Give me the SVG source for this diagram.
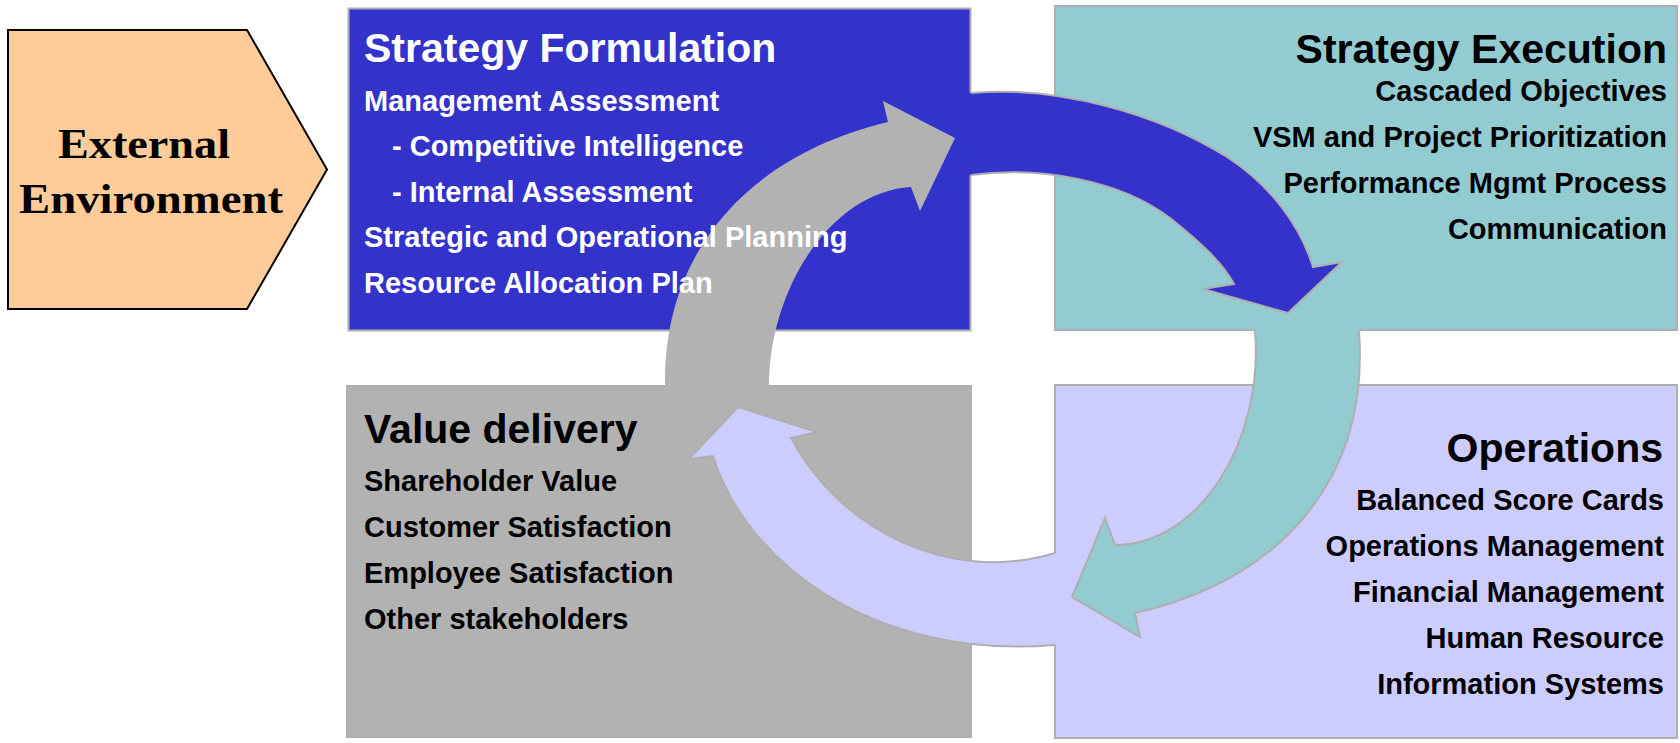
<svg xmlns="http://www.w3.org/2000/svg" width="1680" height="743" viewBox="0 0 1680 743">
<style>
.box{stroke:#AFAFAF;stroke-width:2}
.edge{fill:none;stroke:#AFAFAF;stroke-width:2;stroke-linejoin:miter}
.t{font-family:"Liberation Sans",Arial,sans-serif;font-weight:bold}
.title{font-size:41px}
.body{font-size:29px}
.w{fill:#FFFFFF}
.k{fill:#000000}
.r{text-anchor:end}
.env{font-family:"Liberation Serif","Times New Roman",serif;font-weight:bold;font-size:42px;fill:#000}
</style>
<rect width="1680" height="743" fill="#FFFFFF"/>

<g id="external-environment">
  <polygon points="8,30 247,30 327,169.5 247,309 8,309" fill="#FFCC99" stroke="#000" stroke-width="2"/>
  <text class="env" x="144" y="158" text-anchor="middle" textLength="172" lengthAdjust="spacingAndGlyphs">External</text>
  <text class="env" x="151" y="213" text-anchor="middle" textLength="264" lengthAdjust="spacingAndGlyphs">Environment</text>
</g>

<g id="strategy-formulation-box">
  <rect class="box" x="348.5" y="8.5" width="622" height="322" fill="#3333CC"/>
</g>
<g id="strategy-execution-box">
  <rect class="box" x="1055" y="6" width="622" height="324" fill="#92CCD1"/>
</g>
<g id="value-delivery-box">
  <rect class="box" x="347" y="386" width="624" height="351" fill="#B2B2B2"/>
</g>
<g id="operations-box">
  <rect class="box" x="1055" y="385" width="622" height="353" fill="#CCCCFF"/>
</g>

<g id="connectors">
  <!-- gray arrow: value delivery -> strategy formulation -->
  <path d="M665,400 L665,386 C663,250 750,155 888,122 L883,101 L955,138 L920,211 L911,187 C830,192 769,290 769,386 L769,400 Z" fill="#B2B2B2"/>
  <!-- lavender arrow: operations -> value delivery -->
  <path d="M1090,645 L1055,645 C870,660 745,560 713,456 L689,459 L738,407 L817,432 L791,438 C840,530 950,585 1055,553 L1090,553 Z" fill="#CCCCFF"/>
  <path class="edge" d="M1055,645 C870,660 745,560 713,456 L689,459 L738,407 L817,432 L791,438 C840,530 950,585 1055,553"/>
  <!-- teal arrow: strategy execution -> operations -->
  <path d="M1255,318 L1255,330 C1264,440 1200,545 1115,545 L1105,518 L1072,597 L1140,637 L1135,613 C1280,580 1370,480 1359,330 L1359,318 Z" fill="#92CCD1"/>
  <path class="edge" d="M1255,331 C1264,440 1200,545 1115,545 L1105,518 L1072,597 L1140,637 L1135,613 C1280,580 1370,480 1359,331"/>
  <!-- blue arrow: strategy formulation -> strategy execution -->
  <path d="M962,93 L970,93 C1060,85 1160,115 1227,157 C1270,185 1300,225 1313,267 L1342,262 L1288,313 L1203,289 L1234,284 C1222,262 1200,242 1170,218 C1120,180 1040,166 970,175 L962,175 Z" fill="#3333CC"/>
  <path class="edge" d="M971,93 C1060,85 1160,115 1227,157 C1270,185 1300,225 1313,267 L1342,262 L1288,313 L1203,289 L1234,284 C1222,262 1200,242 1170,218 C1120,180 1040,166 971,175"/>
</g>

<g id="strategy-formulation-text">
  <text class="t title w" x="364" y="62">Strategy Formulation</text>
  <text class="t body w" x="364" y="111">Management Assessment</text>
  <text class="t body w" x="392" y="156">- Competitive Intelligence</text>
  <text class="t body w" x="392" y="202">- Internal Assessment</text>
  <text class="t body w" x="364" y="247">Strategic and Operational Planning</text>
  <text class="t body w" x="364" y="293">Resource Allocation Plan</text>
</g>

<g id="strategy-execution-text">
  <text class="t title k r" x="1667" y="63">Strategy Execution</text>
  <text class="t body k r" x="1667" y="101">Cascaded Objectives</text>
  <text class="t body k r" x="1667" y="147">VSM and Project Prioritization</text>
  <text class="t body k r" x="1667" y="193">Performance Mgmt Process</text>
  <text class="t body k r" x="1667" y="239">Communication</text>
</g>

<g id="value-delivery-text">
  <text class="t title k" x="364" y="443">Value delivery</text>
  <text class="t body k" x="364" y="491">Shareholder Value</text>
  <text class="t body k" x="364" y="537">Customer Satisfaction</text>
  <text class="t body k" x="364" y="583">Employee Satisfaction</text>
  <text class="t body k" x="364" y="629">Other stakeholders</text>
</g>

<g id="operations-text">
  <text class="t title k r" x="1663" y="462">Operations</text>
  <text class="t body k r" x="1664" y="510">Balanced Score Cards</text>
  <text class="t body k r" x="1664" y="556">Operations Management</text>
  <text class="t body k r" x="1664" y="602">Financial Management</text>
  <text class="t body k r" x="1664" y="648">Human Resource</text>
  <text class="t body k r" x="1664" y="694">Information Systems</text>
</g>
</svg>
